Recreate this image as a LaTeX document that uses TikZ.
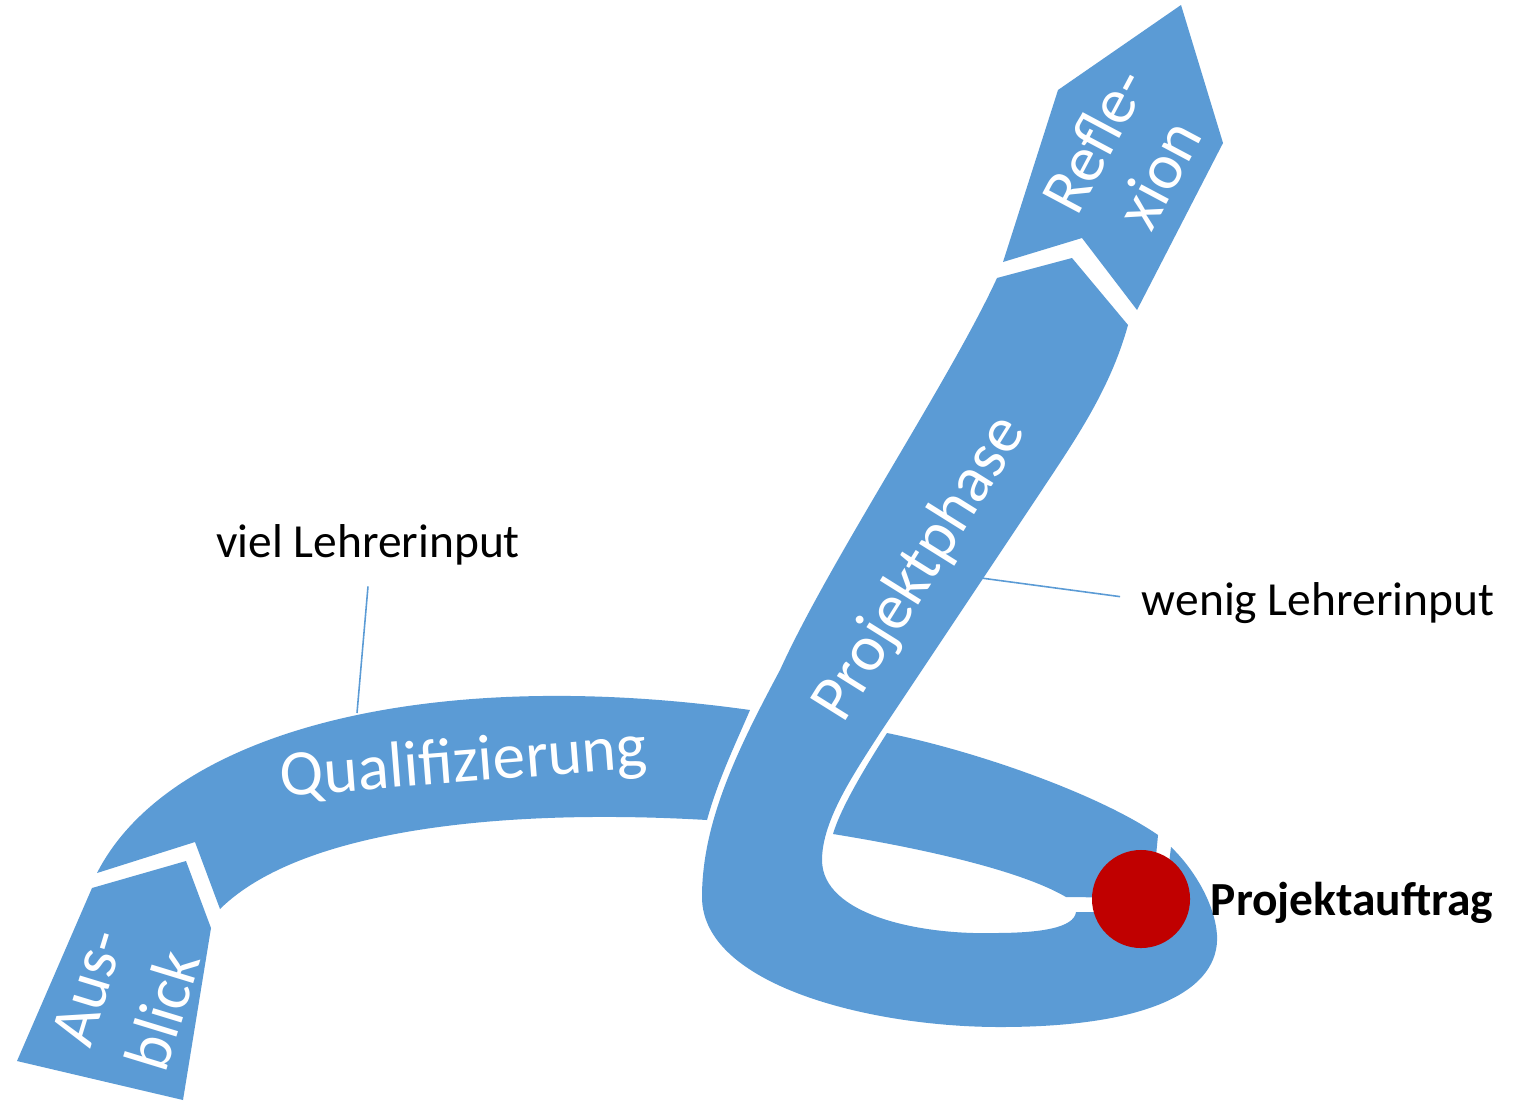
\documentclass[tikz,border=0pt]{standalone}
\usepackage{fontspec}
\setmainfont{Carlito}
\definecolor{ribbon}{RGB}{91,155,213}
\definecolor{dotred}{RGB}{192,0,0}
\begin{document}
\begin{tikzpicture}[x=0.01cm,y=-0.01cm,
  band/.style={fill=ribbon},
  big/.style={text=white, font=\fontsize{18.5}{22}\selectfont, inner sep=0pt},
  lbl/.style={text=black, font=\fontsize{13.5}{16}\selectfont, inner sep=6pt},
  conn/.style={draw=ribbon, line width=0.45pt}]
\useasboundingbox (0,0) rectangle (1528,1100);

% Qualifizierung band (left part)
\fill[band] (97,873) -- (195,842) -- (220,909)
  .. controls (300,830) and (500,808) .. (707,820)
  .. controls (718,780) and (735,745) .. (750,710)
  .. controls (430,665) and (170,730) .. (97,873) -- cycle;

% band continuing behind Projektphase towards Projektauftrag
\fill[band] (887,733) .. controls (980,752) and (1100,795) .. (1158,835)
  -- (1152,898) -- (1066,897)
  .. controls (1020,870) and (920,848) .. (833,834)
  .. controls (840,810) and (862,772) .. (887,733) -- cycle;

% Ausblick
\fill[band] (92,888) -- (186,861) -- (211,928) -- (183,1100) -- (17,1061) -- cycle;

% lower loop and Projektphase
\fill[band] (1171,847) -- (1163,912) -- (1076,912)
  .. controls (1074,928) and (1040,933) .. (994,933)
  .. controls (920,935) and (822,915) .. (822,860)
  .. controls (822,820) and (855,772) .. (880,733)
  -- (1040,493)
  .. controls (1075,440) and (1110,390) .. (1128,325)
  -- (1072,258) -- (997,278)
  .. controls (950,380) and (830,560) .. (780,670)
  .. controls (740,745) and (702,820) .. (702,897)
  .. controls (702,985) and (870,1027) .. (1000,1027)
  .. controls (1150,1027) and (1220,990) .. (1217,935)
  .. controls (1215,905) and (1195,870) .. (1171,847) -- cycle;

% Reflexion
\fill[band] (1003,262) -- (1058,90) -- (1181,5) -- (1223,143) -- (1137,310) -- (1082,238) -- cycle;

% Projektauftrag dot
\node[circle, fill=dotred, inner sep=0pt, minimum size=0.98cm] (dot) at (1141,899) {};

% ribbon texts
\node[big, rotate=4.5, anchor=base] (qual) at (465,782) {Qualifizierung};
\node[big, rotate=58, anchor=base] (proj) at (935,578) {Projektphase};
\node[big, rotate=73, align=center, font=\fontsize{18.5}{22.4}\selectfont] (aus) at (126,999) {Aus-\\blick};
\node[big, rotate=62, align=center, font=\fontsize{18.5}{20.6}\selectfont] (refl) at (1126,157) {Refle-\\xion};

% labels
\node[lbl, anchor=base] (viel) at (368,557) {viel Lehrerinput};
\node[lbl, anchor=base] (wenig) at (1318,615) {wenig Lehrerinput};
\node[lbl, anchor=base, font=\fontsize{13.5}{16}\selectfont\bfseries] (auftrag) at (1352,915) {Projektauftrag};

% connectors
\coordinate (qualtop) at (357,713);
\coordinate (projedge) at (981,578);
\draw[conn] (viel.south) -- (qualtop);
\draw[conn] ([yshift=1.7pt]wenig.west) -- (projedge);
\end{tikzpicture}
\end{document}
